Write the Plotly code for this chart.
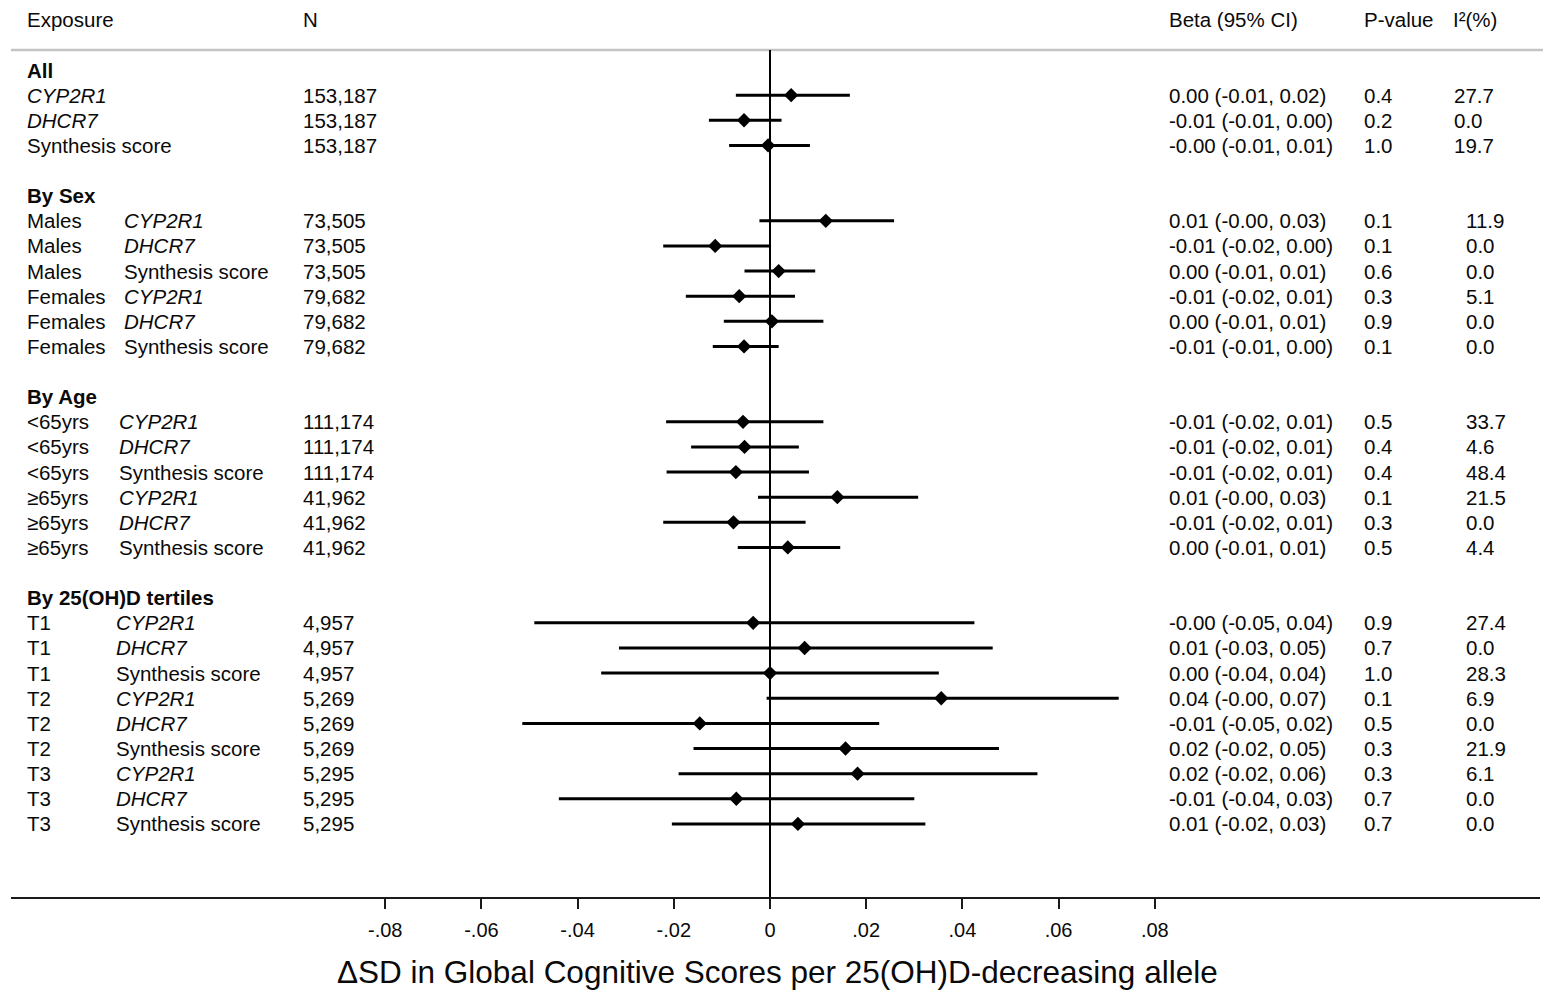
import plotly.graph_objects as go

# ---------------- data ----------------
sections = ["All", "By Sex", "By Age", "By 25(OH)D tertiles"]
section_sizes = [3, 6, 6, 9]

group = ["", "", "",
         "Males", "Males", "Males", "Females", "Females", "Females",
         "&lt;65yrs", "&lt;65yrs", "&lt;65yrs", "≥65yrs", "≥65yrs", "≥65yrs",
         "T1", "T1", "T1", "T2", "T2", "T2", "T3", "T3", "T3"]
exposure = ["CYP2R1", "DHCR7", "Synthesis score"] * 8
n_text = (["153,187"] * 3 + ["73,505"] * 3 + ["79,682"] * 3 + ["111,174"] * 3 +
          ["41,962"] * 3 + ["4,957"] * 3 + ["5,269"] * 3 + ["5,295"] * 3)

beta = [0.0044, -0.0054, -0.0004,
        0.0116, -0.0114, 0.0018, -0.0064, 0.0004, -0.0054,
        -0.0056, -0.0053, -0.0071, 0.0140, -0.0076, 0.0037,
        -0.0035, 0.0072, 0.0000, 0.0356, -0.0146, 0.0157, 0.0182, -0.0070, 0.0058]
ci_low = [-0.0071, -0.0127, -0.0085,
          -0.0022, -0.0222, -0.0053, -0.0175, -0.0096, -0.0119,
          -0.0216, -0.0164, -0.0215, -0.0025, -0.0222, -0.0067,
          -0.0490, -0.0314, -0.0351, -0.0007, -0.0515, -0.0159, -0.0190, -0.0439, -0.0204]
ci_high = [0.0166, 0.0024, 0.0083,
           0.0258, 0.0000, 0.0094, 0.0052, 0.0111, 0.0018,
           0.0111, 0.0060, 0.0081, 0.0308, 0.0074, 0.0146,
           0.0425, 0.0463, 0.0351, 0.0725, 0.0227, 0.0476, 0.0556, 0.0300, 0.0323]

beta_text = ["0.00 (-0.01, 0.02)", "-0.01 (-0.01, 0.00)", "-0.00 (-0.01, 0.01)",
             "0.01 (-0.00, 0.03)", "-0.01 (-0.02, 0.00)", "0.00 (-0.01, 0.01)",
             "-0.01 (-0.02, 0.01)", "0.00 (-0.01, 0.01)", "-0.01 (-0.01, 0.00)",
             "-0.01 (-0.02, 0.01)", "-0.01 (-0.02, 0.01)", "-0.01 (-0.02, 0.01)",
             "0.01 (-0.00, 0.03)", "-0.01 (-0.02, 0.01)", "0.00 (-0.01, 0.01)",
             "-0.00 (-0.05, 0.04)", "0.01 (-0.03, 0.05)", "0.00 (-0.04, 0.04)",
             "0.04 (-0.00, 0.07)", "-0.01 (-0.05, 0.02)", "0.02 (-0.02, 0.05)",
             "0.02 (-0.02, 0.06)", "-0.01 (-0.04, 0.03)", "0.01 (-0.02, 0.03)"]
p_value = ["0.4", "0.2", "1.0",
           "0.1", "0.1", "0.6", "0.3", "0.9", "0.1",
           "0.5", "0.4", "0.4", "0.1", "0.3", "0.5",
           "0.9", "0.7", "1.0", "0.1", "0.5", "0.3", "0.3", "0.7", "0.7"]
i2 = ["27.7", "0.0", "19.7",
      "11.9", "0.0", "0.0", "5.1", "0.0", "0.0",
      "33.7", "4.6", "48.4", "21.5", "0.0", "4.4",
      "27.4", "0.0", "28.3", "6.9", "0.0", "21.9", "6.1", "0.0", "0.0"]

headers = ["Exposure", "N", "Beta (95% CI)", "P-value", "I²(%)"]
tick_vals = [-0.08, -0.06, -0.04, -0.02, 0, 0.02, 0.04, 0.06, 0.08]
tick_text = ["-.08", "-.06", "-.04", "-.02", "0", ".02", ".04", ".06", ".08"]
x_title = "ΔSD in Global Cognitive Scores per 25(OH)D-decreasing allele"

# ---------------- layout helpers ----------------
W, H = 1543, 992
ML, MR, MT, MB = 11, 3, 0, 95
ZERO_PX, PX_PER_UNIT = 770.0, 4810.0
ROW0_PX, ROW_STEP = 70.0, 25.13
plot_h = H - MT - MB

def px2paper(px):
    return (px - ML) / (W - ML - MR)

x_range = [(ML - ZERO_PX) / PX_PER_UNIT, (W - MR - ZERO_PX) / PX_PER_UNIT]
y_top = (MT - ROW0_PX) / ROW_STEP
y_bot = (MT + plot_h - ROW0_PX) / ROW_STEP
y_range = [y_bot, y_top]

# row positions
header_rows, row_pos, row_section = [], [], []
r = 0
for si, sz in enumerate(section_sizes):
    header_rows.append(r)
    for k in range(sz):
        row_pos.append(r + 1 + k)
        row_section.append(si)
    r += sz + 2

FONT = "Liberation Sans, Arial, Helvetica, sans-serif"
FS = 20.5
TXT = "#0a0a0a"
gene_x = [27, 124, 119, 116]
i2_x = [1454, 1466, 1466, 1466]
col_n, col_beta, col_p = 303, 1169, 1364

fig = go.Figure()

# CI lines
xs, ys = [], []
for lo, hi, yy in zip(ci_low, ci_high, row_pos):
    xs += [lo, hi, None]
    ys += [yy, yy, None]
fig.add_trace(go.Scatter(x=xs, y=ys, mode="lines",
                         line=dict(color="black", width=3), hoverinfo="skip",
                         showlegend=False))
# point estimates
fig.add_trace(go.Scatter(x=beta, y=row_pos, mode="markers",
                         marker=dict(symbol="diamond", size=11, color="black",
                                     line=dict(width=0)),
                         showlegend=False))

annotations = []

def add_text(px, y, text, bold=False, italic=False):
    if italic:
        text = "<i>" + text + "</i>"
    if bold:
        text = "<b>" + text + "</b>"
    annotations.append(dict(x=px2paper(px - 2), xref="paper", y=y, yref="y",
                            text=text, showarrow=False, xanchor="left",
                            yanchor="middle",
                            font=dict(family=FONT, size=FS, color=TXT)))

# header row
hdr_px = [27, col_n, col_beta, col_p, 1453]
for px, t in zip(hdr_px, headers):
    add_text(px, -2, t)

for si, name in enumerate(sections):
    add_text(27, header_rows[si], name, bold=True)

for i, yy in enumerate(row_pos):
    si = row_section[i]
    italic = exposure[i] != "Synthesis score"
    if group[i]:
        add_text(27, yy, group[i])
        add_text(gene_x[si], yy, exposure[i], italic=italic)
    else:
        add_text(27, yy, exposure[i], italic=italic)
    add_text(col_n, yy, n_text[i])
    add_text(col_beta, yy, beta_text[i])
    add_text(col_p, yy, p_value[i])
    add_text(i2_x[si], yy, i2[i])

# x-axis title
annotations.append(dict(x=px2paper(777), xref="paper", y=(plot_h - (972 - MT)) / plot_h,
                        yref="paper", text=x_title, showarrow=False,
                        xanchor="center", yanchor="middle",
                        font=dict(family=FONT, size=31.5, color=TXT)))

shapes = [
    # grey rule under header
    dict(type="line", xref="paper", x0=0, x1=1.002, yref="y",
         y0=(50 - ROW0_PX) / ROW_STEP, y1=(50 - ROW0_PX) / ROW_STEP,
         line=dict(color="#c4c4c4", width=2.5)),
    # zero reference line
    dict(type="line", xref="x", x0=0, x1=0, yref="y",
         y0=(50 - ROW0_PX) / ROW_STEP, y1=y_bot,
         line=dict(color="black", width=2)),
]

fig.update_layout(
    width=W, height=H,
    margin=dict(l=ML, r=MR, t=MT, b=MB, pad=0),
    paper_bgcolor="white", plot_bgcolor="white",
    showlegend=False,
    annotations=annotations, shapes=shapes,
    xaxis=dict(range=x_range, showgrid=False, zeroline=False,
               showline=True, linecolor="#1a1a1a", linewidth=2,
               ticks="outside", ticklen=10, tickwidth=1.5, tickcolor="#1a1a1a",
               tickvals=tick_vals, ticktext=tick_text,
               ticklabelstandoff=4,
               tickfont=dict(family=FONT, size=20, color=TXT), fixedrange=True),
    yaxis=dict(range=y_range, visible=False, showgrid=False, zeroline=False,
               fixedrange=True),
)

fig.write_html("out.html", config={"displayModeBar": False},
               post_script="document.body.style.margin='0';")
